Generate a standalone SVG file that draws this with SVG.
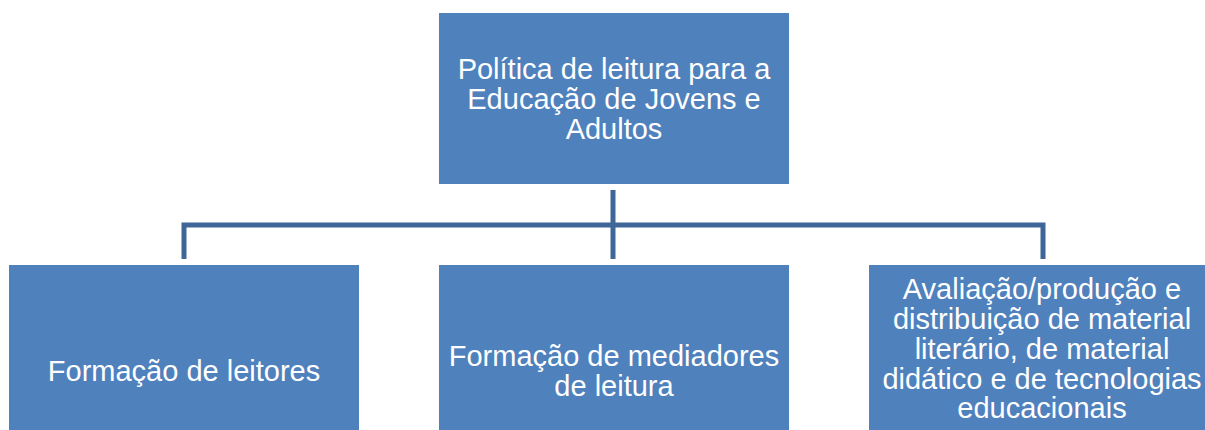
<svg xmlns="http://www.w3.org/2000/svg" width="1205" height="430" viewBox="0 0 1205 430">
<style>
.box{fill:#4F81BD;}
.t{font-family:"Liberation Sans",Arial,sans-serif;font-size:29px;fill:#FFFFFF;text-anchor:middle;}
.c{stroke:#3E6698;stroke-width:5;fill:none;}
</style>
<rect width="1205" height="430" fill="#FFFFFF"/>
<g id="connectors">
<path class="c" d="M613,190 V259"/>
<path class="c" d="M184,259 V225 H1043 V259"/>
</g>
<g id="root">
<rect class="box" x="439" y="13" width="350" height="171"/>
<text class="t" x="614" y="79">Política de leitura para a</text>
<text class="t" x="614" y="109">Educação de Jovens e</text>
<text class="t" x="614" y="139">Adultos</text>
</g>
<g id="n1">
<rect class="box" x="9" y="265" width="350" height="171"/>
<text class="t" x="184" y="381">Formação de leitores</text>
</g>
<g id="n2">
<rect class="box" x="439" y="265" width="350" height="171"/>
<text class="t" x="614" y="366">Formação de mediadores</text>
<text class="t" x="614" y="396">de leitura</text>
</g>
<g id="n3">
<rect class="box" x="869" y="265" width="350" height="171"/>
<text class="t" x="1042" y="299">Avaliação/produção e</text>
<text class="t" x="1042" y="329">distribuição de material</text>
<text class="t" x="1042" y="359">literário, de material</text>
<text class="t" x="1042" y="389">didático e de tecnologias</text>
<text class="t" x="1042" y="418">educacionais</text>
</g>
</svg>
